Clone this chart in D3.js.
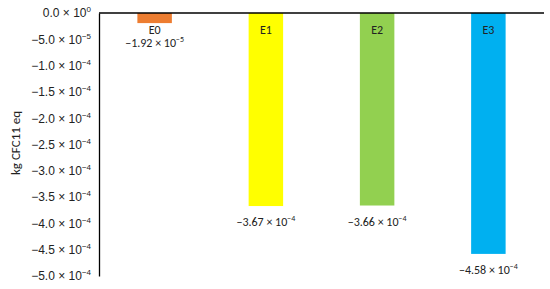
<!DOCTYPE html>
<meta charset="utf-8">
<style>
body{ margin: 0; background: white; }
svg{ font-family: Carlito, "Open Sans", "Noto Sans", sans-serif; }
.tick text{ font-size: 12px; fill: #222; }
</style>
<body>
<script src="https://cdn.jsdelivr.net/npm/d3@7"></script>
<script>

var categories = ['E0', 'E1', 'E2', 'E3']
var values = [-1.92e-5, -3.67e-4, -3.66e-4, -4.58e-4]
var valueLabels = [['\u22121.92', '\u22125'], ['\u22123.67', '\u22124'], ['\u22123.66', '\u22124'], ['\u22124.58', '\u22124']]
var colors = ['#ED7D31', '#FFFF00', '#92D050', '#00B0F0']
var tickValues = [0, -5e-5, -1e-4, -1.5e-4, -2e-4, -2.5e-4, -3e-4, -3.5e-4, -4e-4, -4.5e-4, -5e-4]
var tickLabels = [['0.0', '0'], ['\u22125.0', '\u22125'], ['\u22121.0', '\u22124'], ['\u22121.5', '\u22124'],
  ['\u22122.0', '\u22124'], ['\u22122.5', '\u22124'], ['\u22123.0', '\u22124'], ['\u22123.5', '\u22124'],
  ['\u22124.0', '\u22124'], ['\u22124.5', '\u22124'], ['\u22125.0', '\u22124']]

var width = 550,
    height = 289,
    plotLeft = 99, plotRight = 544, plotTop = 13, plotBottom = 276

var svg = d3.select('body').append('svg')
    .attr('width', width)
    .attr('height', height)

var x = d3.scaleBand().domain(categories).range([plotLeft, plotRight]).paddingInner(0.69).paddingOuter(0.345)
var y = d3.scaleLinear().domain([0, -5e-4]).range([plotTop, plotBottom])

// scientific label: mantissa × 10^exp
function sci(sel, parts){
  sel.text(null)
  sel.append('tspan').text(parts[0] + ' \u00d7 10')
  sel.append('tspan').attr('dy', -5).attr('font-size', '8px').text(parts[1])
}

var yAxis = svg.append('g')
    .attr('transform', 'translate(' + plotLeft + ',0)')
    .call(d3.axisLeft(y).tickValues(tickValues).tickSize(0).tickPadding(8))
yAxis.select('.domain').attr('stroke', '#000').attr('stroke-width', 1.3)
yAxis.selectAll('.tick text').each(function(d, i){
  d3.select(this).call(sci, tickLabels[i])
})

svg.selectAll('rect.bar')
    .data(values)
  .enter().append('rect')
    .attr('class', 'bar')
    .attr('x', function(d, i){ return x(categories[i]) })
    .attr('width', x.bandwidth())
    .attr('y', y(0))
    .attr('height', function(d){ return y(d) - y(0) })
    .attr('fill', function(d, i){ return colors[i] })

svg.append('line')
    .attr('x1', plotLeft).attr('x2', plotRight)
    .attr('y1', y(0)).attr('y2', y(0))
    .attr('stroke', '#000').attr('stroke-width', 1.3)

svg.selectAll('text.cat')
    .data(categories)
  .enter().append('text')
    .attr('class', 'cat')
    .attr('x', function(d){ return x(d) + x.bandwidth() / 2 })
    .attr('y', 34)
    .attr('text-anchor', 'middle')
    .attr('font-size', '12px')
    .attr('fill', '#222')
    .text(function(d){ return d })

svg.selectAll('text.val')
    .data(values)
  .enter().append('text')
    .attr('class', 'val')
    .attr('x', function(d, i){ return x(categories[i]) + x.bandwidth() / 2 })
    .attr('y', function(d){ return Math.max(y(d) + 20, 47) })
    .attr('text-anchor', 'middle')
    .attr('font-size', '12px')
    .attr('fill', '#222')
    .each(function(d, i){ d3.select(this).call(sci, valueLabels[i]) })

svg.append('text')
    .attr('transform', 'translate(20,143) rotate(-90)')
    .attr('text-anchor', 'middle')
    .attr('font-size', '13px')
    .attr('fill', '#222')
    .text('kg CFC11 eq')

</script>
</body>
